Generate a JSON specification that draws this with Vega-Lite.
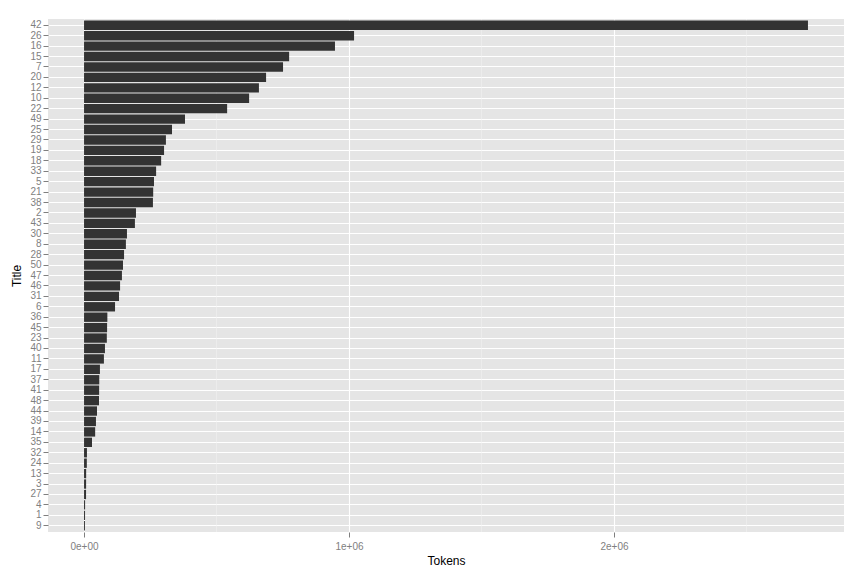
{
  "$schema": "https://vega.github.io/schema/vega-lite/v6.json",
  "autosize": "none",
  "width": 796,
  "height": 513,
  "padding": {"left": 48, "top": 19, "right": 20, "bottom": 45},
  "background": "white",
  "config": {
    "view": {"fill": "#E5E5E5", "stroke": null},
    "font": "Liberation Sans",
    "axis": {
      "labelColor": "#7F7F7F",
      "labelFontSize": 10,
      "tickColor": "#7F7F7F",
      "tickSize": 5,
      "domain": false,
      "gridColor": "white",
      "gridWidth": 1.1,
      "titleColor": "black",
      "titleFontSize": 12,
      "titleFontWeight": "normal"
    }
  },
  "layer": [
    {
      "data": {"values": [{"m": 500000}, {"m": 1500000}, {"m": 2500000}]},
      "mark": {"type": "rule", "color": "#F2F2F2", "strokeWidth": 0.5},
      "encoding": {
        "x": {"field": "m", "type": "quantitative", "scale": {"domain": [-136000, 2868000], "nice": false, "zero": false}}
      }
    },
    {
      "data": {
        "values": [
          {"Title": "42", "Tokens": 2732000},
          {"Title": "26", "Tokens": 1019000},
          {"Title": "16", "Tokens": 947000},
          {"Title": "15", "Tokens": 774000},
          {"Title": "7", "Tokens": 751000},
          {"Title": "20", "Tokens": 687000},
          {"Title": "12", "Tokens": 660000},
          {"Title": "10", "Tokens": 623000},
          {"Title": "22", "Tokens": 540000},
          {"Title": "49", "Tokens": 381000},
          {"Title": "25", "Tokens": 332000},
          {"Title": "29", "Tokens": 309000},
          {"Title": "19", "Tokens": 302000},
          {"Title": "18", "Tokens": 291000},
          {"Title": "33", "Tokens": 272000},
          {"Title": "5", "Tokens": 264000},
          {"Title": "21", "Tokens": 261000},
          {"Title": "38", "Tokens": 260000},
          {"Title": "2", "Tokens": 196000},
          {"Title": "43", "Tokens": 192000},
          {"Title": "30", "Tokens": 162000},
          {"Title": "8", "Tokens": 158000},
          {"Title": "28", "Tokens": 151000},
          {"Title": "50", "Tokens": 147000},
          {"Title": "47", "Tokens": 143000},
          {"Title": "46", "Tokens": 136000},
          {"Title": "31", "Tokens": 132000},
          {"Title": "6", "Tokens": 117000},
          {"Title": "36", "Tokens": 88000},
          {"Title": "45", "Tokens": 87000},
          {"Title": "23", "Tokens": 86000},
          {"Title": "40", "Tokens": 79000},
          {"Title": "11", "Tokens": 75000},
          {"Title": "17", "Tokens": 60000},
          {"Title": "37", "Tokens": 57500},
          {"Title": "41", "Tokens": 57000},
          {"Title": "48", "Tokens": 56500},
          {"Title": "44", "Tokens": 49000},
          {"Title": "39", "Tokens": 45000},
          {"Title": "14", "Tokens": 42000},
          {"Title": "35", "Tokens": 30000},
          {"Title": "32", "Tokens": 11000},
          {"Title": "24", "Tokens": 10500},
          {"Title": "13", "Tokens": 8000},
          {"Title": "3", "Tokens": 7800},
          {"Title": "27", "Tokens": 7600},
          {"Title": "4", "Tokens": 4000},
          {"Title": "1", "Tokens": 3800},
          {"Title": "9", "Tokens": 3500}
        ]
      },
      "mark": {"type": "bar", "color": "#333333"},
      "encoding": {
        "y": {
          "field": "Title",
          "type": "nominal",
          "sort": ["42","26","16","15","7","20","12","10","22","49","25","29","19","18","33","5","21","38","2","43","30","8","28","50","47","46","31","6","36","45","23","40","11","17","37","41","48","44","39","14","35","32","24","13","3","27","4","1","9"],
          "scale": {"paddingInner": 0.1, "paddingOuter": 0.15},
          "axis": {"bandPosition": 0.5, "grid": true, "title": "Title", "titlePadding": 6, "labelPadding": 2}
        },
        "x": {
          "field": "Tokens",
          "type": "quantitative",
          "scale": {"domain": [-136000, 2868000], "nice": false, "zero": false},
          "axis": {
            "values": [0, 1000000, 2000000],
            "labelExpr": "replace(format(datum.value, '.0e'), '+', '+0')",
            "title": "Tokens",
            "labelPadding": 4,
            "titlePadding": 4
          }
        }
      }
    }
  ]
}
